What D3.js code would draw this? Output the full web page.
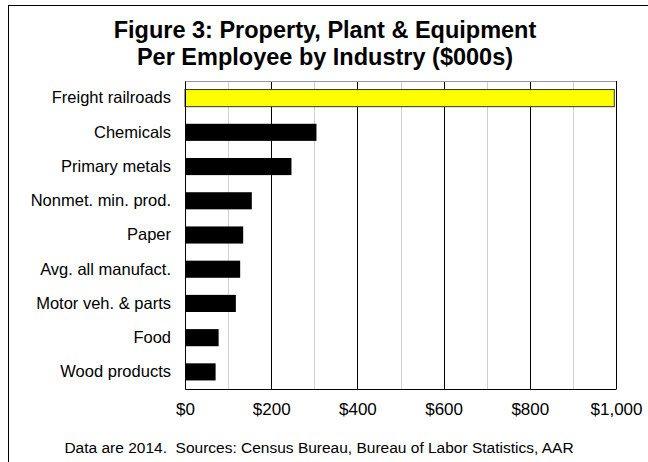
<!DOCTYPE html>
<html>
<head>
<meta charset="utf-8">
<script src="https://cdn.jsdelivr.net/npm/d3@7"></script>
<style>
  body { margin: 0; background: #fff; }
  text { font-family: "Liberation Sans", Arial, sans-serif; fill: #000; }
</style>
</head>
<body>
<svg id="chart" width="648" height="462"></svg>
<script>
const categories = ["Freight railroads", "Chemicals", "Primary metals", "Nonmet. min. prod.", "Paper",
  "Avg. all manufact.", "Motor veh. & parts", "Food", "Wood products"];
const values = [996, 305, 247, 155, 135, 128, 118, 78, 71];
const highlight = "Freight railroads";
const tickValues = [0, 200, 400, 600, 800, 1000];
const titleLines = ["Figure 3: Property, Plant & Equipment", "Per Employee by Industry ($000s)"];
const footnote = "Data are 2014.  Sources: Census Bureau, Bureau of Labor Statistics, AAR";

const data = categories.map((c, i) => ({ name: c, value: values[i] }));

const margin = { top: 81, left: 185, right: 32, bottom: 73 },
  width = 648, height = 462,
  innerWidth = width - margin.left - margin.right,
  innerHeight = height - margin.top - margin.bottom;

const svg = d3.select("#chart");

// outer frame (runs off the right/bottom edges)
svg.append("rect").attr("x", 8.5).attr("y", 5.5).attr("width", 660).attr("height", 480)
  .attr("fill", "none").attr("stroke", "#000");

svg.append("g").selectAll("text").data(titleLines).join("text")
  .attr("x", 325).attr("y", (d, i) => 38 + i * 27)
  .attr("text-anchor", "middle").attr("font-size", "23.5px").attr("font-weight", "bold")
  .text(d => d);

const g = svg.append("g").attr("transform", `translate(${margin.left},${margin.top})`);

const x = d3.scaleLinear().domain([0, 1000]).range([0, innerWidth]);
const y = d3.scaleBand().domain(categories).range([0, innerHeight]).paddingInner(0.5).paddingOuter(0.25);

// gridlines
g.selectAll(".grid").data(d3.range(100, 1000, 100)).join("line")
  .attr("class", "grid")
  .attr("x1", d => Math.round(x(d)) + 0.5).attr("x2", d => Math.round(x(d)) + 0.5)
  .attr("y1", 0).attr("y2", innerHeight)
  .attr("stroke", d => d % 200 === 0 ? "#000" : "#cfcfcf");

// plot frame
g.append("line").attr("x1", 0).attr("x2", innerWidth).attr("y1", 0.5).attr("y2", 0.5).attr("stroke", "#999");
g.append("line").attr("x1", innerWidth + 0.5).attr("x2", innerWidth + 0.5).attr("y1", 0).attr("y2", innerHeight).attr("stroke", "#000");

g.selectAll(".bar").data(data).join("rect")
  .attr("class", "bar")
  .attr("x", x(0))
  .attr("y", d => y(d.name))
  .attr("width", d => x(d.value) - x(0))
  .attr("height", y.bandwidth())
  .attr("fill", d => d.name === highlight ? "#ffff00" : "#000")
  .attr("stroke", d => d.name === highlight ? "#333" : "none");

// axes
const yAxis = g.append("g").call(d3.axisLeft(y).tickSize(0).tickPadding(14));
yAxis.select(".domain").attr("stroke", "#000");
yAxis.selectAll("text").attr("font-size", "16.5px").attr("font-family", "Liberation Sans, Arial, sans-serif");

const xAxis = g.append("g").attr("transform", `translate(0,${innerHeight})`)
  .call(d3.axisBottom(x).tickValues(tickValues).tickSize(0).tickPadding(14)
    .tickFormat(d => "$" + d3.format(",")(d)));
xAxis.select(".domain").attr("stroke", "#000");
xAxis.selectAll("text").attr("font-size", "17px").attr("font-family", "Liberation Sans, Arial, sans-serif");

svg.append("text").attr("x", 319).attr("y", 453).attr("text-anchor", "middle")
  .attr("font-size", "15.5px").style("white-space", "pre").text(footnote);
</script>
</body>
</html>
